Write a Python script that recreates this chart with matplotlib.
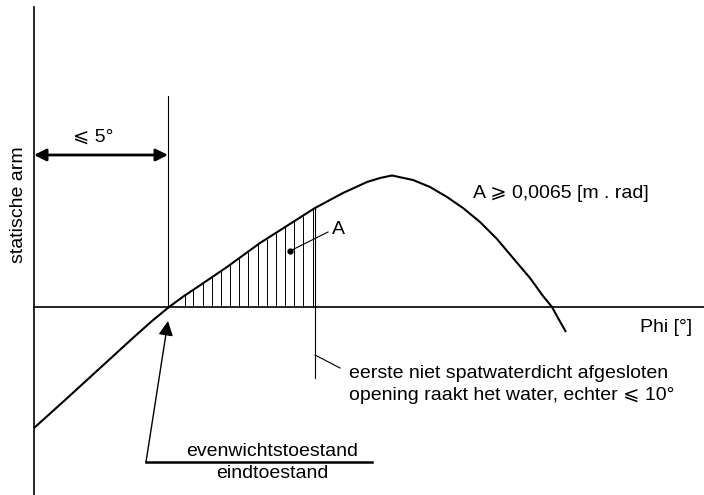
import numpy as np
import matplotlib
matplotlib.use("Agg")
import matplotlib.pyplot as plt

plt.rcParams['font.family'] = ['Liberation Sans', 'DejaVu Sans']

# curve (x = heel, y = statische arm, arbitrary units)
phi = [0, 30, 65, 100, 118, 135, 150, 165, 193, 226, 259, 281, 309, 333, 346, 358,
       379, 396, 413, 429, 446, 463, 479, 496, 509, 518, 524, 532]
gz = [-121, -94, -62, -30, -14, 0, 11, 21, 40, 64, 85, 99, 114, 125, 129, 131.5,
      127, 120, 110, 99, 85, 68, 49, 29, 11, 0, -11, -25]

phi_eq = 134        # evenwicht
phi_open = 281      # eerste opening raakt water
hatch_x = [151, 159, 169, 178, 187, 196, 205, 214, 224, 233, 242, 251, 260, 269, 279]

label_y = 'statische arm'
label_x = 'Phi [°]'
label_area = 'A ⩾ 0,0065 [m . rad]'
label_5 = '⩽ 5°'
label_open = ['eerste niet spatwaterdicht afgesloten', 'opening raakt het water, echter ⩽ 10°']
label_eq = ['evenwichtstoestand', 'eindtoestand']

fig = plt.figure(figsize=(7.04, 4.95), dpi=100)
ax = fig.add_axes([0, 0, 1, 1])
ax.set_xlim(-34, 670)
ax.set_ylim(-188, 307)
ax.axis('off')
fs = 14

# axes lines
ax.plot([0, 0], [-188, 300], color='black', lw=1.2)
ax.plot([0, 670], [0, 0], color='black', lw=1.2)

# curve
ax.plot(phi, gz, color='black', lw=1.5, solid_joinstyle='round', solid_capstyle='butt')

# hatched area
top = np.interp(hatch_x, phi, gz)
ax.vlines(hatch_x, 0, top, color='black', lw=0.7)
ax.plot([phi_eq, phi_eq], [0, 211], color='black', lw=0.8)
ax.plot([phi_open, phi_open], [-71, np.interp(phi_open, phi, gz)], color='black', lw=0.8)

# <= 5 degree arrow
ax.annotate('', xy=(0, 152), xytext=(phi_eq, 152),
            arrowprops=dict(arrowstyle='<|-|>', color='black', lw=2, mutation_scale=18,
                            shrinkA=0, shrinkB=0))
ax.text(59, 170, label_5, fontsize=fs, ha='center', va='center')

# A label
ax.plot([256, 294], [56, 75], color='black', lw=0.8)
ax.plot(256, 56, 'o', color='black', ms=3.5)
ax.text(304, 78, 'A', fontsize=fs, ha='center', va='center')
ax.text(439, 114, label_area, fontsize=fs, ha='left', va='center')

ax.text(658, -20, label_x, fontsize=fs, ha='right', va='center')
ax.text(-15, 102, label_y, fontsize=fs, ha='center', va='center', rotation=90)

# opening annotation
ax.plot([phi_open, 306], [-48, -61], color='black', lw=0.8)
ax.text(315, -66, label_open[0], fontsize=fs, ha='left', va='center')
ax.text(315, -88, label_open[1], fontsize=fs, ha='left', va='center')

# equilibrium annotation
ax.annotate('', xy=(134, -14), xytext=(112, -155),
            arrowprops=dict(arrowstyle='-|>', color='black', lw=1, mutation_scale=22,
                            shrinkA=0, shrinkB=0))
ax.plot([112, 338], [-155, -155], color='black', lw=1.8)
ax.text(238, -145, label_eq[0], fontsize=fs, ha='center', va='center')
ax.text(238, -166, label_eq[1], fontsize=fs, ha='center', va='center')

fig.savefig('out.png', dpi=100)
